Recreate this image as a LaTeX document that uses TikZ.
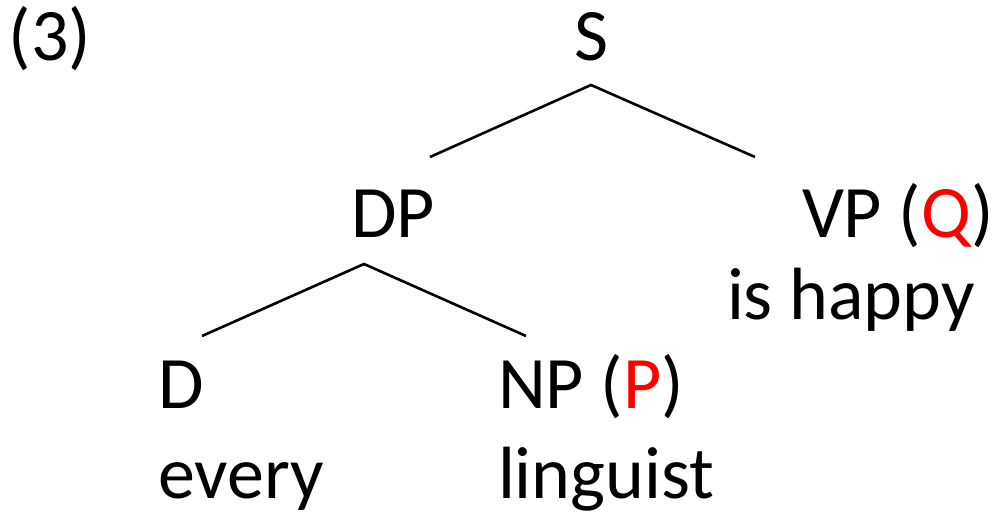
\documentclass[tikz,border=0pt]{standalone}
\usepackage{fontspec}
\setmainfont{Carlito}
\definecolor{mark}{RGB}{255,0,0}
\begin{document}
\begin{tikzpicture}[x=1pt,y=1pt,
  lbl/.style={anchor=base west,inner sep=0pt,outer sep=0pt,font=\fontsize{74}{80}\selectfont},
  branch/.style={line width=2.6pt,line cap=butt}]
\useasboundingbox (0,0) rectangle (992,511);
% labels (y measured from the bottom edge)
\node[lbl] (num) at (9,450) {(3)};
\node[lbl,anchor=base] (s) at (591,450) {S};
\node[lbl] (dp) at (351,273) {DP};
\node[lbl] (vp) at (802,273) {VP (\textcolor{mark}{Q})};
\node[lbl] (vpw) at (727,191) {is happy};
\node[lbl] (d) at (158,102) {D};
\node[lbl] (np) at (498,102) {NP (\textcolor{mark}{P})};
\node[lbl] (dw) at (158,13) {every};
\node[lbl] (npw) at (498,13) {linguist};
% branch points
\coordinate (s-top) at (591,426);
\coordinate (s-left) at (430,354);
\coordinate (s-right) at (755,354);
\coordinate (dp-top) at (364,247);
\coordinate (dp-left) at (202,175);
\coordinate (dp-right) at (526,175);
\draw[branch] (s-left) -- (s-top) -- (s-right);
\draw[branch] (dp-left) -- (dp-top) -- (dp-right);
\end{tikzpicture}
\end{document}
